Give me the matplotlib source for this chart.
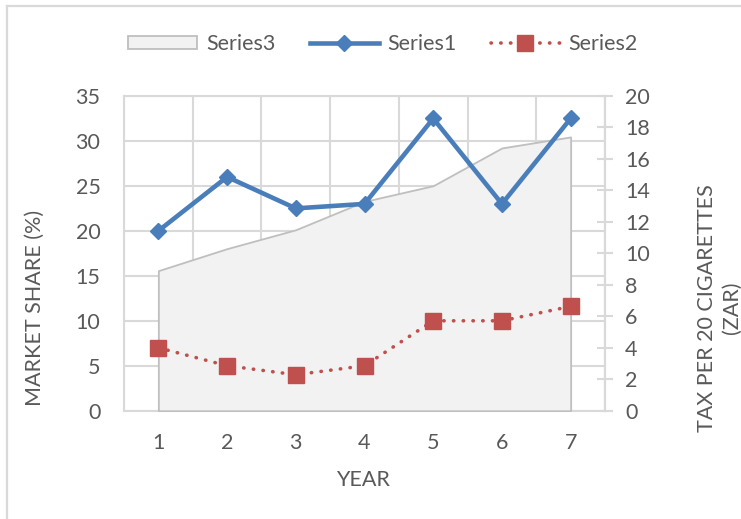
import numpy as np
import matplotlib
matplotlib.use("Agg")
import matplotlib.pyplot as plt
from matplotlib.lines import Line2D
from matplotlib.patches import Patch

# data
years = [1, 2, 3, 4, 5, 6, 7]
series1 = [20, 26, 22.5, 23, 32.5, 23, 32.5]          # market share (%)
series2 = [7, 5, 4, 5, 10, 10, 11.6]                  # market share (%)
series3 = [8.9, 10.3, 11.5, 13.3, 14.3, 16.7, 17.4]   # tax per 20 cigarettes (ZAR)
left_ticks = [0, 5, 10, 15, 20, 25, 30, 35]
right_ticks = [0, 2, 4, 6, 8, 10, 12, 14, 16, 18, 20]

plt.rcParams['font.family'] = ['Lato', 'DejaVu Sans']
txt = '#595959'
grid_c = '#d9d9d9'
blue = '#4a7ebb'
red = '#c0504d'
fs = 15.5

W, H = 741, 519
fig = plt.figure(figsize=(W / 100, H / 100), dpi=100)

# plot area in pixels
x0, x1, y0, y1 = 124, 605, 96, 410.7
ax1 = fig.add_axes([x0 / W, 1 - y1 / H, (x1 - x0) / W, (y1 - y0) / H])

# chart border (only top and left visible in the crop)
bx, by = 6.5 / W, 1 - 5.5 / H
fig.add_artist(Line2D([bx, bx], [0, by], transform=fig.transFigure, color=grid_c, lw=1.6))
fig.add_artist(Line2D([bx, 1], [by, by], transform=fig.transFigure, color=grid_c, lw=1.6))

ax1.set_xlim(0.5, 7.5)
ax1.set_ylim(0, 35)
ax1.set_xticks(years)
ax1.set_xticks(np.arange(0.5, 8, 1), minor=True)
ax1.set_yticks(left_ticks)
ax1.grid(True, which='minor', axis='x', color=grid_c, lw=1.5)
ax1.grid(True, which='major', axis='y', color=grid_c, lw=1.5)
ax1.tick_params(axis='x', which='both', length=0, pad=16, labelsize=fs, labelcolor=txt)
ax1.tick_params(axis='y', length=0, pad=17, labelsize=fs, labelcolor=txt)
for s in ax1.spines.values():
    s.set_color(grid_c)
    s.set_linewidth(1.5)
ax1.set_axisbelow(True)

# area on secondary axis
ax2 = ax1.twinx()
ax2.set_ylim(0, 20)
ax2.set_yticks(right_ticks)
ax2.fill_between(years, series3, 0, facecolor='#f2f2f2', edgecolor='#bfbfbf', lw=1.3)
ax2.tick_params(axis='y', direction='inout', length=11, width=1.5, color=grid_c,
                pad=9, labelsize=fs, labelcolor=txt)
for s in ax2.spines.values():
    s.set_visible(False)
ax2.spines['right'].set_visible(True)
ax2.spines['right'].set_color(grid_c)
ax2.spines['right'].set_linewidth(1.5)

# lines on top
ax3 = ax1.twinx()
ax3.set_ylim(0, 35)
ax3.axis('off')
ax3.plot(years, series1, color=blue, lw=3.3, marker='D', markersize=8.5,
         solid_joinstyle='round', clip_on=False)
ax3.plot(years, series2, color=red, lw=2.6, linestyle=(0, (0.1, 2.6)),
         dash_capstyle='round', marker='s', markersize=11.5, clip_on=False)

fig.text(35 / W, 1 - 308 / H, 'MARKET SHARE (%)', rotation=90, ha='center', va='center',
         fontsize=fs, color=txt)
fig.text(719 / W, 1 - 308 / H, 'TAX PER 20 CIGARETTES\n(ZAR)', rotation=90, ha='center',
         va='center', multialignment='center', fontsize=fs, color=txt, linespacing=1.3)
fig.text(363 / W, 1 - 480 / H, 'YEAR', ha='center', va='center', fontsize=fs, color=txt)

handles = [
    Patch(facecolor='#f2f2f2', edgecolor='#bfbfbf', lw=1.3),
    Line2D([], [], color=blue, lw=3.3, marker='D', markersize=8.5),
    Line2D([], [], color=red, lw=2.6, linestyle=(0, (0.1, 2.6)), dash_capstyle='round',
           marker='s', markersize=11.5),
]
fig.legend(handles, ['Series3', 'Series1', 'Series2'], loc='center',
           bbox_to_anchor=(383 / W, 1 - 44 / H), ncol=3, frameon=False,
           handlelength=3.2, handleheight=0.6, columnspacing=1.6, handletextpad=0.4,
           fontsize=fs, labelcolor=txt)

fig.savefig('out.png', dpi=100)
